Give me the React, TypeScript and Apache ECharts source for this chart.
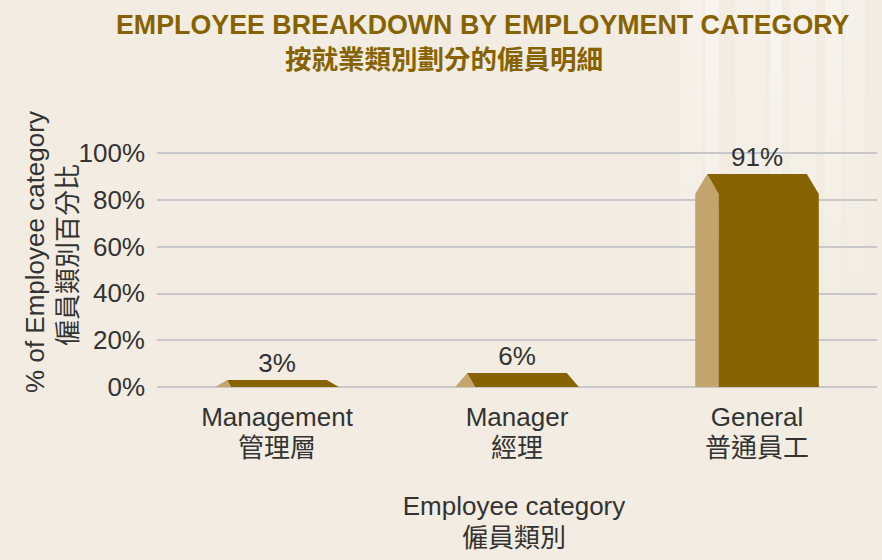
import React, { useEffect, useRef } from "react";
import * as echarts from "echarts";

const categoriesEn = ["Management", "Manager", "General"];
const categoriesZh = ["管理層", "經理", "普通員工"];
const percentages = [3, 6, 91];
const yMin = 0;
const yMax = 100;
const yInterval = 20;

const titleEn = "EMPLOYEE BREAKDOWN BY EMPLOYMENT CATEGORY";
const titleZh = "按就業類別劃分的僱員明細";
const yNameEn = "% of Employee category";
const yNameZh = "僱員類別百分比";
const xNameEn = "Employee category";
const xNameZh = "僱員類別";

const FONT = "'Liberation Sans', Arial, 'Noto Sans CJK TC', sans-serif";
const TEXT = "#333333";
const GOLD = "#876300";
const LIGHT = "#c3a46d";

export default function App() {
  const ref = useRef<HTMLDivElement>(null);
  useEffect(() => {
    if (!ref.current) return;
    const chart = echarts.init(ref.current, null, { renderer: "svg" });
    const streaks = [
      [680, 22, 0.3],
      [705, 14, 0.45],
      [735, 30, 0.25],
      [770, 12, 0.45],
      [790, 26, 0.3],
      [825, 16, 0.4],
      [845, 20, 0.25],
    ];
    const option: any = {
      animation: false,
      backgroundColor: "#f2ece2",
      textStyle: { fontFamily: FONT },
      graphic: {
        elements: [
          ...streaks.map(([x, w, a]) => ({
            type: "rect",
            z: -100,
            silent: true,
            shape: { x, y: 0, width: w, height: 330 },
            style: {
              fill: new echarts.graphic.LinearGradient(0, 0, 0, 1, [
                { offset: 0, color: `rgba(255,255,255,${a})` },
                { offset: 0.5, color: `rgba(255,255,255,${a * 0.6})` },
                { offset: 1, color: "rgba(255,255,255,0)" },
              ]),
            },
          })),
          {
            type: "text",
            x: 116,
            y: 25,
            style: {
              text: titleEn,
              font: `bold 26.8px ${FONT}`,
              fill: GOLD,
              textAlign: "left",
              textVerticalAlign: "middle",
            },
          },
          {
            type: "text",
            x: 285,
            y: 57,
            style: {
              text: titleZh,
              font: `bold 26.5px 'Noto Sans CJK TC', sans-serif`,
              fill: GOLD,
              textAlign: "left",
              textVerticalAlign: "middle",
            },
          },
          {
            type: "text",
            x: 35,
            y: 252,
            rotation: Math.PI / 2,
            style: {
              text: yNameEn,
              font: `26px ${FONT}`,
              fill: TEXT,
              textAlign: "center",
              textVerticalAlign: "middle",
            },
          },
          {
            type: "text",
            x: 65,
            y: 255,
            rotation: Math.PI / 2,
            style: {
              text: yNameZh,
              font: `26px 'Noto Sans CJK TC', sans-serif`,
              fill: TEXT,
              textAlign: "center",
              textVerticalAlign: "middle",
            },
          },
        ],
      },
      grid: { left: 157, right: 5, top: 153, bottom: 173 },
      xAxis: {
        type: "category",
        data: categoriesEn,
        axisLine: { show: false },
        axisTick: { show: false },
        axisLabel: {
          margin: 14,
          color: TEXT,
          fontSize: 26,
          lineHeight: 31,
          fontFamily: FONT,
          formatter: (_v: string, i: number) => `${categoriesEn[i]}\n${categoriesZh[i]}`,
        },
        name: `${xNameEn}\n${xNameZh}`,
        nameLocation: "middle",
        nameGap: 103,
        nameTextStyle: { color: TEXT, fontSize: 26, lineHeight: 32, fontFamily: FONT, padding: [0, 6, 0, 0] },
      },
      yAxis: {
        type: "value",
        min: yMin,
        max: yMax,
        interval: yInterval,
        axisLine: { show: false },
        axisTick: { show: false },
        axisLabel: {
          margin: 12,
          color: TEXT,
          fontSize: 26,
          fontFamily: FONT,
          formatter: (v: number) => `${v}%`,
        },
        splitLine: { lineStyle: { color: "#c8c8cb", width: 2 } },
      },
      series: [
        {
          type: "custom",
          data: percentages.map((v, i) => [i, v]),
          encode: { x: 0, y: 1 },
          z: 5,
          renderItem: (_params: any, api: any) => {
            const idx = api.value(0);
            const val = api.value(1);
            const top = api.coord([idx, val]);
            const base = api.coord([idx, 0]);
            const band = api.size([1, 0])[0];
            const w = band * 0.515;
            const cx = top[0];
            const x0 = cx - w / 2;
            const x1 = cx + w / 2;
            const ty = top[1];
            const by = base[1];
            const h = by - ty;
            const b = Math.min(20, h);
            const inset = 12;
            const inner = inset + 0.57 * b;
            return {
              type: "group",
              children: [
                {
                  type: "polygon",
                  shape: {
                    points: [
                      [x0, by],
                      [x0, ty + b],
                      [x0 + inset, ty],
                      [x0 + inner, ty + b],
                      [x0 + inner, by],
                    ],
                  },
                  style: { fill: LIGHT },
                },
                {
                  type: "polygon",
                  shape: {
                    points: [
                      [x0 + inset, ty],
                      [x1 - inset, ty],
                      [x1, ty + b],
                      [x1, by],
                      [x0 + inner, by],
                      [x0 + inner, ty + b],
                    ],
                  },
                  style: { fill: GOLD },
                },
                {
                  type: "text",
                  style: {
                    text: `${val}%`,
                    x: cx,
                    y: ty - 17,
                    textAlign: "center",
                    textVerticalAlign: "middle",
                    font: `26px ${FONT}`,
                    fill: TEXT,
                  },
                },
              ],
            };
          },
        },
      ],
    };
    chart.setOption(option);
    return () => chart.dispose();
  }, []);
  return (
    <div
      ref={ref}
      style={{ position: "fixed", left: 0, top: 0, width: 882, height: 560 }}
    />
  );
}
